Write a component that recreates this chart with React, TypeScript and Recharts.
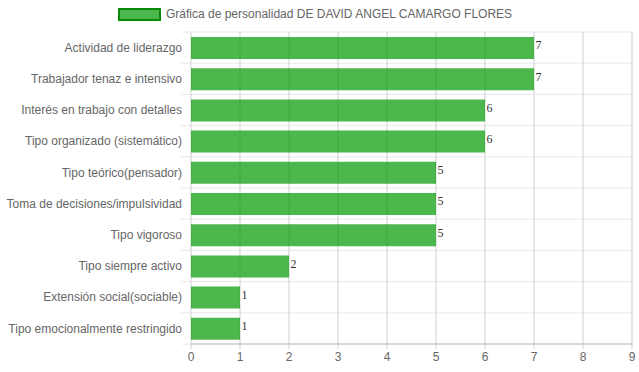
import React from 'react';
import { BarChart, Bar, XAxis, YAxis, CartesianGrid, Legend, LabelList } from 'recharts';

const categories = [
  'Actividad de liderazgo',
  'Trabajador tenaz e intensivo',
  'Interés en trabajo con detalles',
  'Tipo organizado (sistemático)',
  'Tipo teórico(pensador)',
  'Toma de decisiones/impulsividad',
  'Tipo vigoroso',
  'Tipo siempre activo',
  'Extensión social(sociable)',
  'Tipo emocionalmente restringido',
];
const values = [7, 7, 6, 6, 5, 5, 5, 2, 1, 1];
const xTicks = [0, 1, 2, 3, 4, 5, 6, 7, 8, 9];
const seriesName = 'Gráfica de personalidad DE DAVID ANGEL CAMARGO FLORES';

const data = categories.map((c, i) => ({ name: c, value: values[i] }));

const FONT = '"Liberation Sans", Arial, Helvetica, sans-serif';
const BAR_FILL = 'rgba(0,153,0,0.7)';
const BAR_BORDER = '#0a8a0a';

const LegendContent = () => (
  <div style={{ display: 'flex', alignItems: 'center', height: 24, paddingLeft: 118, fontFamily: FONT, fontSize: 12, color: '#666' }}>
    <span style={{ display: 'inline-block', width: 39, height: 9, background: BAR_FILL, border: `2px solid ${BAR_BORDER}`, marginRight: 5 }} />
    <span>{seriesName}</span>
  </div>
);

const ValueLabel = (props: any) => {
  const { x, y, width, value } = props;
  return (
    <text x={x + width + 1.5} y={y + 12.3} fill="#333" fontSize={12} fontFamily="'Liberation Serif', 'Times New Roman', serif" textAnchor="start">
      {value}
    </text>
  );
};

const YTick = (props: any) => {
  const { x, y, payload } = props;
  return (
    <text x={x} y={y} dy="0.35em" textAnchor="end" fill="#666" fontSize={12} fontFamily={FONT}>
      {payload.value}
    </text>
  );
};

const HLine = (props: any) => {
  const { x1, x2, y1, y2 } = props;
  return <line x1={x1 - 10} x2={x2} y1={y1} y2={y2} stroke="#e8e8e8" strokeWidth={1} />;
};

const VLine = (props: any) => {
  const { x1, x2, y1, y2 } = props;
  return <line x1={x1} x2={x2} y1={y1} y2={y2 + 5} stroke="#cfcfcf" strokeWidth={1} />;
};

export default function App() {
  return (
    <div style={{ position: 'absolute', left: 0, top: 0 }}>
      <BarChart
        width={639}
        height={372}
        data={data}
        layout="vertical"
        margin={{ top: 8, right: 7, left: 0, bottom: 0 }}
        barSize={22}
      >
        <Legend verticalAlign="top" content={<LegendContent />} wrapperStyle={{ top: 2, left: 0, width: 639, height: 24 }} />
        <CartesianGrid
          horizontal={HLine as any}
          vertical={VLine as any}
          horizontalCoordinatesGenerator={({ offset }: any) =>
            categories.map((_, i) => offset.top + (i * offset.height) / categories.length).concat([offset.top + offset.height])
          }
        />
        <XAxis
          type="number"
          domain={[0, 9]}
          ticks={xTicks}
          interval={0}
          height={28}
          tickLine={false}
          tickSize={6}
          tickMargin={2}
          axisLine={{ stroke: '#bdbdbd' }}
          tick={{ fill: '#666', fontSize: 12, fontFamily: FONT }}
        />
        <YAxis
          type="category"
          dataKey="name"
          width={191}
          tickLine={false}
          axisLine={false}
          tickSize={0}
          tickMargin={9}
          interval={0}
          tick={<YTick />}
        />
        <Bar dataKey="value" name={seriesName} fill={BAR_FILL} isAnimationActive={false}>
          <LabelList dataKey="value" content={ValueLabel} />
        </Bar>
      </BarChart>
    </div>
  );
}
